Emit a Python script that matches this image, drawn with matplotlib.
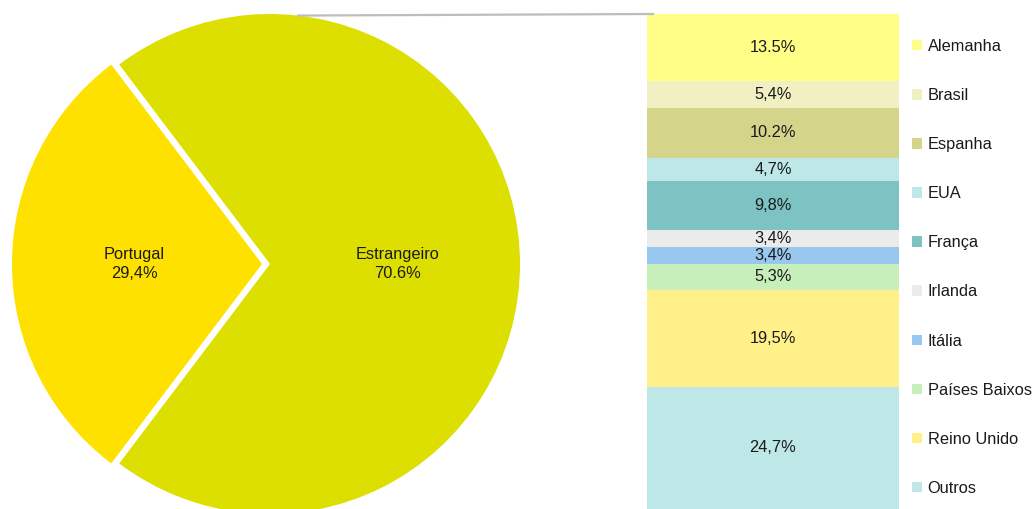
import numpy as np
import matplotlib
matplotlib.use("Agg")
from matplotlib import pyplot as plt
from matplotlib.patches import ConnectionPatch

plt.rcParams['font.family'] = ['Liberation Sans', 'DejaVu Sans']

# origem: Portugal vs Estrangeiro
origem = ['Portugal', 'Estrangeiro']
origem_val = [29.4, 70.6]
origem_txt = ['29,4%', '70.6%']
origem_cor = ['#FFE100', '#DDDF00']

# detalhe do estrangeiro por país
paises = ['Alemanha', 'Brasil', 'Espanha', 'EUA', 'França', 'Irlanda',
          'Itália', 'Países Baixos', 'Reino Unido', 'Outros']
paises_val = [13.5, 5.4, 10.2, 4.7, 9.8, 3.4, 3.4, 5.3, 19.5, 24.7]
paises_txt = ['13.5%', '5,4%', '10.2%', '4,7%', '9,8%', '3,4%', '3,4%',
              '5,3%', '19,5%', '24,7%']
paises_cor = ['#FFFF88', '#F0F0C2', '#D4D48A', '#BEE7E7', '#7EC3C3',
              '#EBEBEB', '#98C8F0', '#C7EFB9', '#FFF08A', '#BEE7E7']

W, H = 1036, 509
fig = plt.figure(figsize=(W / 100, H / 100), dpi=100)

# pizza (centro e raio em pixels)
cx, cy, r = 270, 264, 250
ax_pie = fig.add_axes([(cx - r) / W, (H - cy - r) / H, 2 * r / W, 2 * r / H])
inicio = 180 - origem_val[0] * 3.6 / 2
wedges, _ = ax_pie.pie(origem_val, colors=origem_cor, startangle=inicio,
                       explode=[0.032, 0], counterclock=True,
                       wedgeprops=dict(linewidth=0))
for w, nome, txt in zip(wedges, origem, origem_txt):
    ang = np.deg2rad((w.theta1 + w.theta2) / 2)
    x = w.center[0] + 0.51 * w.r * np.cos(ang)
    y = w.center[1] + 0.51 * w.r * np.sin(ang)
    ax_pie.text(x, y, nome + '\n' + txt, ha='center', va='center',
                fontsize=11.8, color='#1a1a1a', linespacing=1.4)
ax_pie.set_xlim(-1, 1)
ax_pie.set_ylim(-1, 1)
ax_pie.axis('off')

# barra empilhada
bx0, bx1, by0 = 647, 899, 14
ax_bar = fig.add_axes([bx0 / W, 0, (bx1 - bx0) / W, (H - by0) / H])
base = np.concatenate([[0], np.cumsum(paises_val)[:-1]])
barras = []
for v, b, c, nome, txt in zip(paises_val, base, paises_cor, paises, paises_txt):
    rect = ax_bar.bar(0, v, bottom=b, width=1.0, color=c, label=nome)
    barras.append(rect[0])
    ax_bar.text(0, b + v / 2, txt, ha='center', va='center',
                fontsize=11.8, color='#1a1a1a')
ax_bar.set_xlim(-0.5, 0.5)
ax_bar.set_ylim(sum(paises_val), 0)
ax_bar.axis('off')

# linha de ligação entre a pizza e a barra
ang = np.deg2rad(83.6)
con = ConnectionPatch(xyA=(np.cos(ang), np.sin(ang)), coordsA=ax_pie.transData,
                      xyB=(0.025, 1.0), coordsB=ax_bar.transAxes,
                      color='#BDBDBD', linewidth=1.6)
fig.add_artist(con)

fig.legend(handles=barras, labels=paises, loc='upper left',
           bbox_to_anchor=(912 / W, 1 - 39 / H), frameon=False,
           fontsize=11.8, handlelength=0.6, handleheight=0.6,
           handletextpad=0.35, labelspacing=2.08, borderpad=0,
           borderaxespad=0, labelcolor='#1a1a1a')

fig.savefig('out.png', dpi=100)
